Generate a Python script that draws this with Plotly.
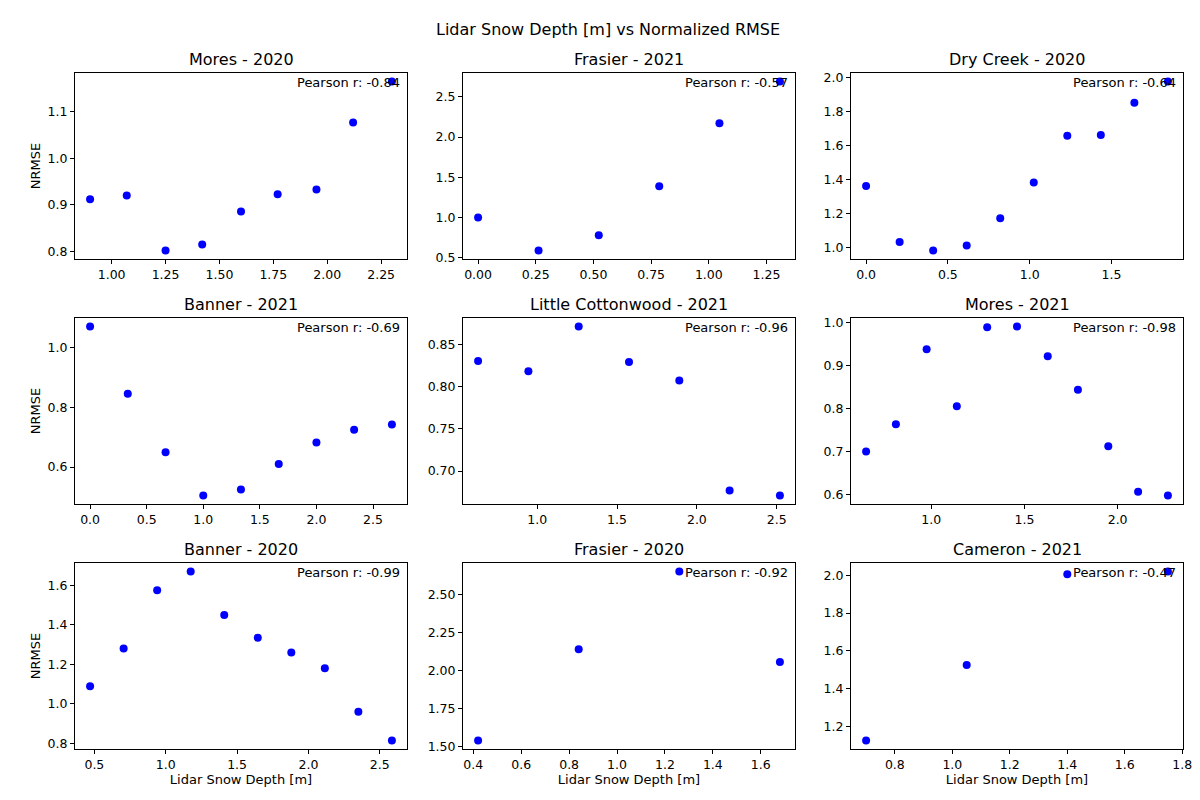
import numpy as np
import plotly.graph_objects as go

# panel titles and pearson values
titles = ["Mores - 2020", "Frasier - 2021", "Dry Creek - 2020",
          "Banner - 2021", "Little Cottonwood - 2021", "Mores - 2021",
          "Banner - 2020", "Frasier - 2020", "Cameron - 2021"]
pearson = [-0.84, -0.57, -0.64, -0.69, -0.96, -0.98, -0.99, -0.92, -0.47]

mores20_x = [0.90, 1.07, 1.25, 1.42, 1.60, 1.77, 1.95, 2.12, 2.30]
mores20_y = [0.912, 0.920, 0.802, 0.815, 0.886, 0.923, 0.933, 1.077, 1.165]
frasier21_x = [0.0, 0.262, 0.523, 0.785, 1.046, 1.308]
frasier21_y = [1.0, 0.59, 0.78, 1.39, 2.17, 2.69]
dry20_x = [0.0, 0.205, 0.41, 0.615, 0.82, 1.025, 1.23, 1.435, 1.64, 1.845]
dry20_y = [1.36, 1.03, 0.98, 1.01, 1.17, 1.38, 1.655, 1.66, 1.85, 1.975]
banner21_x = [0.0, 0.333, 0.667, 1.0, 1.333, 1.667, 2.0, 2.333, 2.667]
banner21_y = [1.07, 0.845, 0.65, 0.505, 0.525, 0.61, 0.682, 0.725, 0.742]
lcc21_x = [0.63, 0.945, 1.26, 1.575, 1.89, 2.205, 2.52]
lcc21_y = [0.830, 0.818, 0.871, 0.829, 0.807, 0.677, 0.671]
mores21_x = [0.65, 0.81, 0.975, 1.137, 1.30, 1.46, 1.625, 1.787, 1.95, 2.11, 2.27]
mores21_y = [0.70, 0.763, 0.937, 0.805, 0.988, 0.99, 0.921, 0.843, 0.712, 0.607, 0.598]
banner20_x = [0.47, 0.705, 0.94, 1.175, 1.41, 1.645, 1.88, 2.115, 2.35, 2.585]
banner20_y = [1.09, 1.28, 1.575, 1.67, 1.45, 1.335, 1.26, 1.18, 0.96, 0.815]
frasier20_x = [0.42, 0.84, 1.26, 1.68]
frasier20_y = [1.54, 2.14, 2.65, 2.055]
cameron21_x = [0.70, 1.05, 1.40, 1.75]
cameron21_y = [1.125, 1.525, 2.005, 2.02]

xs = [mores20_x, frasier21_x, dry20_x, banner21_x, lcc21_x, mores21_x, banner20_x, frasier20_x, cameron21_x]
ys = [mores20_y, frasier21_y, dry20_y, banner21_y, lcc21_y, mores21_y, banner20_y, frasier20_y, cameron21_y]

# tick spacing / format per panel
x_dtick = [0.25, 0.25, 0.5, 0.5, 0.5, 0.5, 0.5, 0.2, 0.2]
y_dtick = [0.1, 0.5, 0.2, 0.2, 0.05, 0.1, 0.2, 0.25, 0.2]
x_fmt = [".2f", ".2f", ".1f", ".1f", ".1f", ".1f", ".1f", ".1f", ".1f"]
y_fmt = [".1f", ".1f", ".1f", ".1f", ".2f", ".1f", ".1f", ".2f", ".1f"]

col_dom = [[67/1200, 399/1200], [455/1200, 787/1200], [843/1200, 1175/1200]]
row_dom = [[1-251/800, 1-65/800], [1-496/800, 1-310/800], [1-741/800, 1-555/800]]

fig = go.Figure()
annotations = []
font = dict(family="DejaVu Sans", size=13, color="black")
for i in range(9):
    r, c = divmod(i, 3)
    n = "" if i == 0 else str(i + 1)
    fig.add_trace(go.Scatter(x=xs[i], y=ys[i], mode="markers",
                             marker=dict(color="blue", size=8),
                             xaxis="x" + n, yaxis="y" + n, showlegend=False))
    xmin, xmax = min(xs[i]), max(xs[i])
    ymin, ymax = min(ys[i]), max(ys[i])
    px, py = (xmax - xmin) * 0.05, (ymax - ymin) * 0.05
    common = dict(showline=True, mirror=True, linecolor="black", linewidth=1,
                  ticks="outside", ticklen=4, tickcolor="black", showgrid=False,
                  zeroline=False, automargin=False,
                  tickfont=dict(family="DejaVu Sans", size=12.5, color="black"))
    xa = dict(common, domain=col_dom[c], anchor="y" + n, range=[xmin - px, xmax + px],
              dtick=x_dtick[i], tick0=0, tickformat=x_fmt[i])
    ya = dict(common, domain=row_dom[r], anchor="x" + n, range=[ymin - py, ymax + py],
              dtick=y_dtick[i], tick0=0, tickformat=y_fmt[i])
    if r == 2:
        xa["title"] = dict(text="Lidar Snow Depth [m]", font=font, standoff=2)
    if c == 0:
        ya["title"] = dict(text="NRMSE", font=font, standoff=4)
    fig.update_layout(**{"xaxis" + n: xa, "yaxis" + n: ya})
    annotations.append(dict(text=titles[i], xref="x%s domain" % n, yref="y%s domain" % n,
                            x=0.5, y=1.0, yshift=2, xanchor="center", yanchor="bottom",
                            showarrow=False, font=dict(family="DejaVu Sans", size=16, color="black")))
    annotations.append(dict(text="Pearson r: %.2f" % pearson[i], xref="x%s domain" % n,
                            yref="y%s domain" % n, x=0.985, y=1.0, xanchor="right",
                            yanchor="top", showarrow=False, font=font))

annotations.append(dict(text="Lidar Snow Depth [m] vs Normalized RMSE", xref="paper", yref="paper",
                        x=0.5, y=1 - 22/800, xanchor="center", yanchor="middle", showarrow=False,
                        font=dict(family="DejaVu Sans", size=16, color="black")))

fig.update_layout(width=1200, height=800, margin=dict(l=0, r=0, t=0, b=0),
                  plot_bgcolor="white", paper_bgcolor="white", annotations=annotations)
fig.write_html("out.html")
